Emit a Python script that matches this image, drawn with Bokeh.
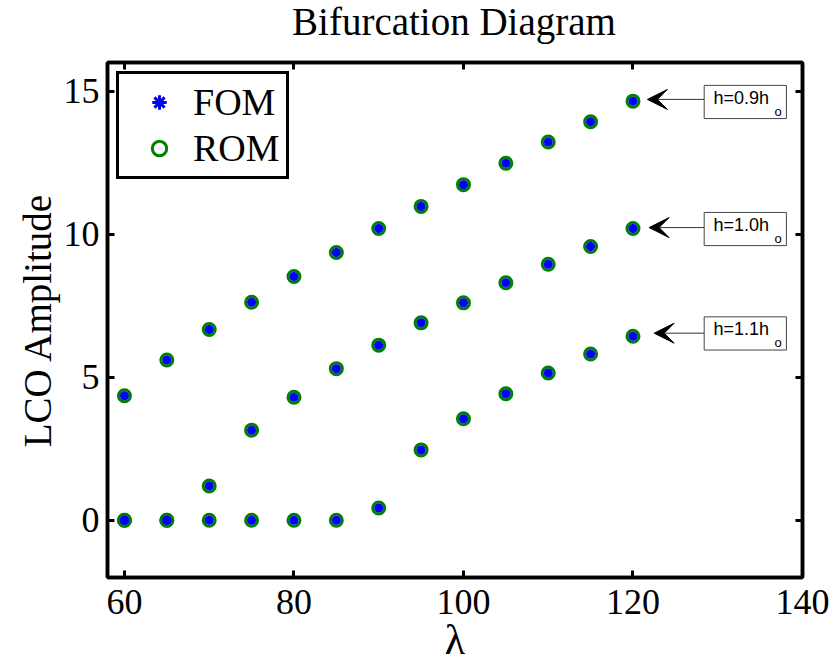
from bokeh.plotting import figure
from bokeh.layouts import column
from bokeh.models import (ColumnDataSource, Range1d, LinearAxis, FixedTicker, Arrow, VeeHead,
                          Legend, LegendItem, Div)
from bokeh.core.properties import value
from bokeh.embed import file_html
from bokeh.resources import INLINE

# ---------------- data ----------------
lam = [60, 65, 70, 75, 80, 85, 90, 95, 100, 105, 110, 115, 120]
amp_h09 = [4.35, 5.6, 6.67, 7.62, 8.52, 9.36, 10.2, 10.97, 11.73, 12.48, 13.22, 13.93, 14.65]
amp_h10 = [0.0, 0.0, 1.2, 3.15, 4.3, 5.3, 6.12, 6.9, 7.6, 8.3, 8.95, 9.57, 10.2]
amp_h11 = [0.0, 0.0, 0.0, 0.0, 0.0, 0.0, 0.43, 2.46, 3.55, 4.42, 5.15, 5.81, 6.43]

x_ticks = [60, 80, 100, 120, 140]
y_ticks = [0, 5, 10, 15]

title_text = "Bifurcation Diagram"
ann_main = ["h=0.9h", "h=1.0h", "h=1.1h"]
ann_sub = ["o", "o", "o"]
ann_y = [14.62, 10.18, 6.53]
ann_arrow_y = [14.71, 10.23, 6.54]
ann_tip_x = [121.7, 121.9, 122.5]
ann_box_left = 128.4
ann_box_right = 138.1
ann_box_half = 0.58

# ---------------- layout ----------------
W, H = 835, 665
TITLE_H = 46
ML, MR, MT, MB = 107, 33, 62 - TITLE_H, 86
frame_cx = ML + (W - ML - MR) / 2

title_div = Div(
    text=('<div style="width:%dpx;height:%dpx;position:relative;">'
          '<span style="position:absolute;left:%dpx;top:0px;transform:translateX(-50%%);'
          'white-space:nowrap;font-family:\'Liberation Serif\';font-size:39px;'
          'line-height:44px;color:black;">%s</span></div>') % (W, TITLE_H, frame_cx, title_text),
    width=W, height=TITLE_H, margin=0)

p = figure(width=W, height=H - TITLE_H, output_backend="svg", toolbar_location=None,
           x_range=Range1d(58, 140), y_range=Range1d(-2, 16),
           min_border_left=ML, min_border_right=MR, min_border_top=MT, min_border_bottom=MB,
           margin=0)
p.grid.visible = False
p.outline_line_color = "black"
p.outline_line_width = 3.5
p.background_fill_color = "white"
p.border_fill_color = "white"

serif = "Liberation Serif"
for ax, ticks in ((p.xaxis[0], x_ticks), (p.yaxis[0], y_ticks)):
    ax.ticker = FixedTicker(ticks=ticks)
    ax.major_label_text_font = serif
    ax.major_label_text_font_size = "36px"
    ax.major_label_text_color = "black"
    ax.axis_label_text_font = serif
    ax.axis_label_text_font_style = "normal"
    ax.axis_label_text_color = "black"
    ax.axis_line_width = 3.5
    ax.major_tick_in = 7
    ax.major_tick_out = 0
    ax.major_tick_line_width = 3
    ax.minor_tick_line_color = None

p.xaxis.axis_label = "λ"
p.yaxis.axis_label = "LCO Amplitude"
p.xaxis.axis_label_text_font_size = "42px"
p.yaxis.axis_label_text_font_size = "39px"
p.xaxis.major_label_standoff = 12
p.yaxis.major_label_standoff = 8
p.xaxis.axis_label_standoff = 0
p.yaxis.axis_label_standoff = 2

axis_kw = dict(major_label_text_font_size="1px", major_label_text_color=None,
               major_tick_in=7, major_tick_out=0, major_tick_line_width=3,
               minor_tick_line_color=None, axis_line_width=3.5, major_label_standoff=0)
top_ax = LinearAxis(ticker=FixedTicker(ticks=x_ticks), **axis_kw)
right_ax = LinearAxis(ticker=FixedTicker(ticks=y_ticks), **axis_kw)
p.add_layout(top_ax, "above")
p.add_layout(right_ax, "right")

# ---------------- points ----------------
xs = lam * 3
ys = amp_h09 + amp_h10 + amp_h11
src = ColumnDataSource(dict(x=xs, y=ys))

rom = p.scatter("x", "y", source=src, marker="circle", size=12, fill_color=None,
                line_color="#008000", line_width=3)
fom = p.scatter("x", "y", source=src, marker="asterisk", size=9,
                line_color="#0000ff", line_width=3)

# ---------------- annotations ----------------
box_src = ColumnDataSource(dict(
    left=[ann_box_left] * 3, right=[ann_box_right] * 3,
    top=[y + ann_box_half for y in ann_y], bottom=[y - ann_box_half for y in ann_y]))
p.quad(left="left", right="right", top="top", bottom="bottom", source=box_src,
       fill_color="white", line_color="#444444", line_width=1)

arr_src = ColumnDataSource(dict(x0=[ann_box_left] * 3, x1=ann_tip_x, y0=ann_arrow_y, y1=ann_arrow_y))
p.add_layout(Arrow(end=VeeHead(size=20, fill_color="black", line_color="black", line_width=1),
                   x_start="x0", y_start="y0", x_end="x1", y_end="y1", source=arr_src,
                   line_color="#333333", line_width=1))

txt_src = ColumnDataSource(dict(x=[ann_box_left + 1.1] * 3, y=[y + 0.14 for y in ann_y], t=ann_main))
p.text("x", "y", text="t", source=txt_src, text_font=value("Liberation Sans"),
       text_font_size="18px", text_baseline="middle", text_align="left", text_color="black")
sub_src = ColumnDataSource(dict(x=[ann_box_left + 8.3] * 3, y=[y - 0.33 for y in ann_y], t=ann_sub))
p.text("x", "y", text="t", source=sub_src, text_font=value("Liberation Sans"),
       text_font_size="13px", text_baseline="middle", text_align="left", text_color="black")

# ---------------- legend ----------------
legend = Legend(items=[LegendItem(label="FOM", renderers=[fom]),
                       LegendItem(label="ROM", renderers=[rom])],
                location="top_left", margin=9, padding=6, spacing=2,
                label_text_font=serif, label_text_font_size="38px", label_text_color="black",
                glyph_width=68, glyph_height=36, label_standoff=0,
                border_line_color="black", border_line_width=3, border_line_alpha=1.0,
                background_fill_color="white", background_fill_alpha=1.0)
p.add_layout(legend, "center")

layout = column(title_div, p, spacing=0, margin=0)
open("out.html", "w").write(file_html(layout, INLINE))
